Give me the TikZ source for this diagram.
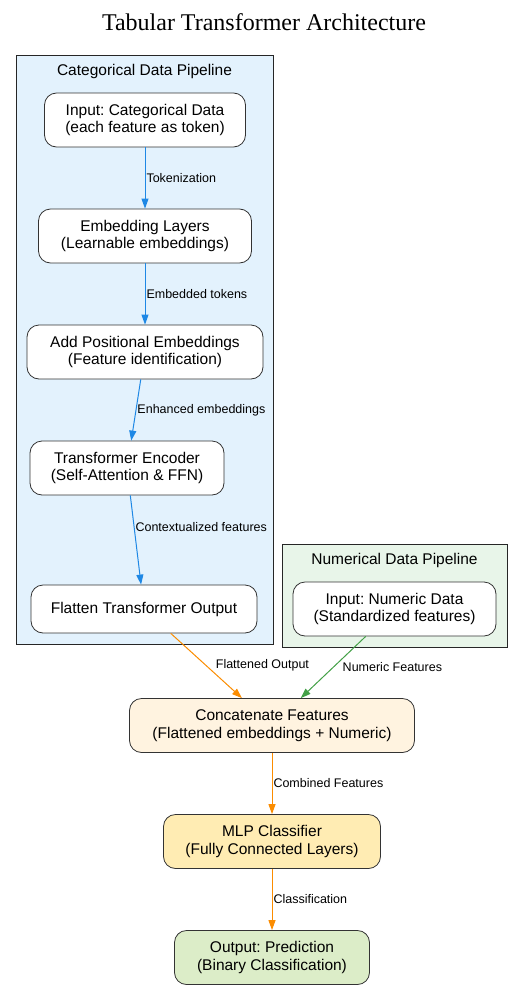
\documentclass[tikz,border=0pt]{standalone}
\usepackage{fontspec}
\setmainfont{Liberation Sans}
\newfontfamily\titlefont{Liberation Serif}
\usetikzlibrary{arrows.meta}
\frenchspacing

\definecolor{catfill}{HTML}{E3F2FD}
\definecolor{numfill}{HTML}{E8F5E9}
\definecolor{catfill2}{HTML}{FFF3E0}
\definecolor{mlpfill}{HTML}{FFECB3}
\definecolor{outfill}{HTML}{DCEDC8}
\definecolor{bluearrow}{HTML}{1E88E5}
\definecolor{orangearrow}{HTML}{FB8C00}
\definecolor{greenarrow}{HTML}{43A047}
\definecolor{edgegray}{HTML}{333333}

\begin{document}
\begin{tikzpicture}[x=1pt, y=-1pt, node distance=116pt,
  block/.style={draw=edgegray, line width=0.8pt, fill=white, rounded corners=12pt,
    align=center, minimum height=54pt, inner sep=0pt,
    font=\fontsize{15.5}{17.5}\selectfont},
  cluster/.style={draw=black!85, line width=0.8pt},
  lbl/.style={right, inner sep=1pt, text=black, font=\fontsize{12.5}{14}\selectfont},
  flow/.style={line width=1pt, -{Triangle[length=10pt, width=7pt]}}]

  \useasboundingbox (0,0) rectangle (528,990);

  % Title
  \node (title) at (264,22) {\titlefont\fontsize{24}{27}\selectfont Tabular Transformer Architecture};

  % Clusters
  \draw[cluster, fill=catfill] (16,55) rectangle (273,644);
  \node[font=\fontsize{15.5}{17.5}\selectfont] (catlabel) at (144.5,71) {Categorical Data Pipeline};
  \draw[cluster, fill=numfill] (282,544) rectangle (507,647);
  \node[font=\fontsize{15.5}{17.5}\selectfont] (numlabel) at (394.5,560) {Numerical Data Pipeline};

  % Categorical column
  \node[block, minimum width=201pt] (catin) at (145,120) {Input: Categorical Data\\(each feature as token)};
  \node[block, minimum width=213pt, below of=catin] (embed) {Embedding Layers\\(Learnable embeddings)};
  \node[block, minimum width=236pt, below of=embed] (posemb) {Add Positional Embeddings\\(Feature identification)};
  \node[block, minimum width=194pt, below of=posemb, xshift=-18pt] (encoder) {Transformer Encoder\\(Self-Attention \& FFN)};
  \node[block, minimum width=226pt, minimum height=48pt, below of=encoder, xshift=17pt, yshift=-25pt] (flatten) {Flatten Transformer Output};

  % Numerical column
  \node[block, minimum width=203pt] (numin) at (394.5,609) {Input: Numeric Data\\(Standardized features)};

  % Head
  \node[block, fill=catfill2, minimum width=285pt] (concat) at (272,725.5) {Concatenate Features\\(Flattened embeddings + Numeric)};
  \node[block, fill=mlpfill, minimum width=217pt, below of=concat] (mlp) {MLP Classifier\\(Fully Connected Layers)};
  \node[block, fill=outfill, minimum width=195pt, below of=mlp] (output) {Output: Prediction\\(Binary Classification)};

  % Arrows
  \draw[flow, bluearrow] (catin) -- node[lbl] {Tokenization} (embed);
  \draw[flow, bluearrow] (embed) -- node[lbl] {Embedded tokens} (posemb);
  \draw[flow, bluearrow] (posemb) -- node[lbl] {Enhanced embeddings} (encoder);
  \draw[flow, bluearrow] (encoder) -- node[lbl, pos=0.35] {Contextualized features} (flatten);
  \draw[flow, orangearrow] (flatten) -- node[lbl, xshift=8pt] {Flattened Output} (concat);
  \draw[flow, greenarrow] (numin) -- node[lbl, xshift=8pt] {Numeric Features} (concat);
  \draw[flow, orangearrow] (concat) -- node[lbl] {Combined Features} (mlp);
  \draw[flow, orangearrow] (mlp) -- node[lbl] {Classification} (output);

\end{tikzpicture}
\end{document}
